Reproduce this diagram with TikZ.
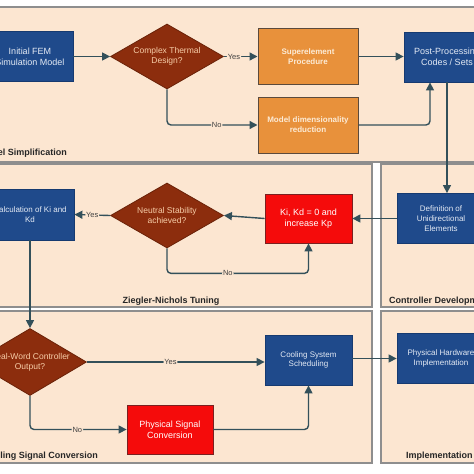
\documentclass[tikz,border=0pt]{standalone}
\usepackage{fontspec}
\setmainfont{Liberation Sans}
\usetikzlibrary{shapes.geometric,arrows.meta}
\definecolor{panelfill}{HTML}{FCE6D1}
\definecolor{panelline}{HTML}{8E8E8E}
\definecolor{bluefill}{HTML}{1F4A8B}
\definecolor{blueline}{HTML}{163A70}
\definecolor{orfill}{HTML}{E8913B}
\definecolor{orline}{HTML}{5B4A3C}
\definecolor{rustfill}{HTML}{8C2D0D}
\definecolor{rustline}{HTML}{6A2208}
\definecolor{redfill}{HTML}{F50B0B}
\definecolor{redline}{HTML}{7A2020}
\definecolor{arrowc}{HTML}{33505A}
\definecolor{dtext}{HTML}{F7CDA8}
\definecolor{btext}{HTML}{E4EAF4}
\definecolor{otext}{HTML}{FCEBD6}
\newcommand{\fsz}[2]{\fontsize{#1}{#2}\selectfont}
\tikzset{
 panel/.style={fill=panelfill, draw=panelline, line width=1.3pt},
 bluebox/.style={rectangle, fill=bluefill, draw=blueline, line width=0.8pt, text=btext, align=center, inner sep=0pt, font=\fsz{8}{9.7}},
 orbox/.style={rectangle, fill=orfill, draw=orline, line width=1pt, text=otext, align=center, inner sep=0pt, font=\bfseries\fsz{8}{10}, minimum width=100pt, minimum height=56pt},
 redbox/.style={rectangle, fill=redfill, draw=redline, line width=0.8pt, text=white, align=center, inner sep=0pt, font=\fsz{9}{10.8}},
 decision/.style={diamond, aspect=1.74, fill=rustfill, draw=rustline, line width=0.8pt, text=dtext, align=center, inner sep=0pt, font=\fsz{8.5}{10}, minimum width=113pt, minimum height=65pt},
 conn/.style={draw=arrowc, line width=1.4pt, rounded corners=4pt, -{Triangle[length=8pt,width=8pt]}},
 lbl/.style={fill=panelfill, text=black!75, font=\fsz{7.5}{8}, inner sep=1pt},
 ptitle/.style={font=\bfseries\fsz{9}{10}, text=black!85, inner sep=0pt}
}
\begin{document}
\begin{tikzpicture}[x=1pt,y=-1pt]
\useasboundingbox (0,0) rectangle (474,474);
\clip (0,0) rectangle (474,474);
\fill[white] (0,0) rectangle (474,474);
% panels
\draw[panel] (-10,7) rectangle (490,162);
\draw[panel] (-10,164) rectangle (372,307);
\draw[panel] (381,164) rectangle (490,307);
\draw[panel] (-10,311) rectangle (372,463);
\draw[panel] (381,311) rectangle (490,463);
% panel titles
\node[ptitle, anchor=east] (t1) at (67,153) {Model Simplification};
\node[ptitle] (t2) at (171,301) {Ziegler-Nichols Tuning};
\node[ptitle, anchor=west] (t3) at (389,301) {Controller Development};
\node[ptitle, anchor=east] (t4) at (98,456) {Scheduling Signal Conversion};
\node[ptitle, anchor=west] (t5) at (406,456) {Implementation};
% row 1
\node[bluebox, font=\fsz{9}{10.7}, minimum width=86pt, minimum height=50pt] (fem) at (30,56.5) {Initial FEM\\Simulation Model};
\node[decision] (d1) at (167,56.5) {Complex Thermal\\Design?};
\node[orbox] (sup) at (308,56.5) {Superelement\\Procedure};
\node[orbox] (mdr) at (308,125) {Model dimensionality\\reduction};
\node[bluebox, font=\fsz{9}{10.7}, minimum width=86pt, minimum height=50pt] (post) at (447,57) {Post-Processing\\Codes / Sets};
% row 2
\node[bluebox, minimum width=88pt, minimum height=51pt] (calc) at (30,214.5) {Calculation of Ki and\\Kd};
\node[decision] (d2) at (167,215.5) {Neutral Stability\\achieved?};
\node[redbox, minimum width=87pt, minimum height=49pt] (ki) at (308.5,218.5) {Ki, Kd = 0 and\\increase Kp};
\node[bluebox, minimum width=88pt, minimum height=50pt] (def) at (441,218.5) {Definition of\\Unidirectional\\Elements};
% row 3
\node[decision, minimum height=67pt] (d3) at (30,362) {Real-Word Controller\\Output?};
\node[redbox, minimum width=86pt, minimum height=49pt] (psc) at (170,429.5) {Physical Signal\\Conversion};
\node[bluebox, minimum width=87pt, minimum height=50pt] (cool) at (308.5,360) {Cooling System\\Scheduling};
\node[bluebox, minimum width=88pt, minimum height=50pt] (hw) at (441,358.5) {Physical Hardware\\Implementation};
% connectors
\draw[conn] (fem) -- (d1);
\draw[conn] (d1) -- node[lbl, pos=0.3] {Yes} (sup);
\draw[conn] (d1.south) |- node[lbl, pos=0.775] {No} (mdr.west);
\draw[conn] (sup) -- (post.west |- sup);
\draw[conn] (mdr.east) -| ([xshift=-17pt]post.south);
\draw[conn] (post.south) -- (post.south |- def.north);
\draw[conn] (def.west) -- (ki.east);
\draw[conn] (ki.west) -- (d2.east);
\draw[conn] (d2.west) -- node[lbl] {Yes} (calc.east);
\draw[conn] (d2.south) -- ++(0,25) -| node[lbl, pos=0.215] {No} (ki.south);
\draw[conn] (calc.south) -- (d3.north);
\draw[conn] (d3.east) -- node[lbl, pos=0.47] {Yes} (cool.west |- d3.east);
\draw[conn] (d3.south) |- node[lbl, pos=0.745] {No} (psc.west);
\draw[conn] (psc.east) -| (cool.south);
\draw[conn] (cool.east |- hw.west) -- (hw.west);
\end{tikzpicture}
\end{document}
